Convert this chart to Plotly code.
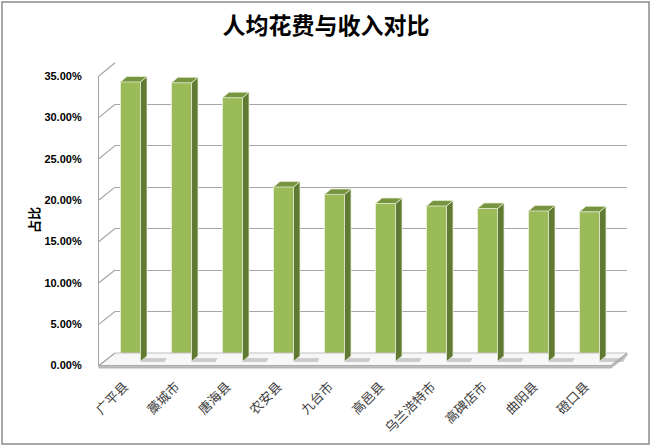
import plotly.graph_objects as go

W, H = 652, 447

# data
categories = ["广平县", "藁城市", "唐海县", "农安县", "九台市",
              "高邑县", "乌兰浩特市", "高碑店市", "曲阳县", "磴口县"]
ratios = [0.338, 0.337, 0.319, 0.211, 0.202, 0.191, 0.188, 0.185, 0.182, 0.181]
tick_vals = [0, 0.05, 0.10, 0.15, 0.20, 0.25, 0.30, 0.35]

# pixel geometry of the three planes of the fake 3D box
front = dict(left=99, right=611, base=365.5, top=76)
back = dict(left=115, right=627, base=353, top=62.7)
bars = dict(left=105, right=615, base=361.5, top=72.05)

FACE = "#9BBB59"
TOP = "#779440"
SIDE = "#617A33"
EDGE = "#E4ECD2"
GRID = "#A6A6A6"


def fx(p):
    return p / W


def fy(p):
    return 1 - p / H


# bar plane: pixel -> data helpers
cat_px = (bars["right"] - bars["left"]) / len(categories)
val_px = (bars["base"] - bars["top"]) / 0.35


def bx(p):
    return -0.5 + (p - bars["left"]) / cat_px


def by(p):
    return (bars["base"] - p) / val_px


bar_w = 20 / cat_px
dx = 6.5 / cat_px
dy = 5.5 / val_px

fig = go.Figure()

# invisible traces so the back wall and the front plane subplots get drawn
fig.add_trace(go.Scatter(x=[0] * len(tick_vals), y=tick_vals, mode="markers",
                         marker=dict(opacity=0), hoverinfo="skip", showlegend=False,
                         xaxis="x", yaxis="y"))
fig.add_trace(go.Scatter(x=list(range(len(categories))), y=[0] * len(categories),
                         mode="markers", marker=dict(opacity=0), hoverinfo="skip",
                         showlegend=False, xaxis="x2", yaxis="y2"))

# floor slab
fl_x = [bx(front["left"]), bx(front["right"]), bx(back["right"]), bx(back["left"]), bx(front["left"])]
fl_y = [by(front["base"]), by(front["base"]), by(back["base"]), by(back["base"]), by(front["base"])]
fig.add_trace(go.Scatter(x=fl_x, y=fl_y, mode="lines", fill="toself",
                         fillcolor="#F7F7F7", line=dict(color="#BFBFBF", width=1),
                         hoverinfo="skip", showlegend=False, xaxis="x3", yaxis="y3"))
slab_x = [bx(front["left"]), bx(front["right"]), bx(back["right"]), bx(back["right"]),
          bx(front["right"]), bx(front["left"]), bx(front["left"])]
slab_y = [by(front["base"]), by(front["base"]), by(back["base"]), by(back["base"] + 2.5),
          by(front["base"] + 2.5), by(front["base"] + 2.5), by(front["base"])]
fig.add_trace(go.Scatter(x=slab_x, y=slab_y, mode="lines", fill="toself",
                         fillcolor="#BFBFBF", line=dict(color="#A6A6A6", width=0.8),
                         hoverinfo="skip", showlegend=False, xaxis="x3", yaxis="y3"))

# soft shadows on the floor
sh_x, sh_y = [], []
for i in range(len(ratios)):
    x0 = i + bar_w / 2
    x1 = x0 + 24 / cat_px
    sh_x += [x0, x1, x1 + 2 / cat_px, x0 + 2 / cat_px, x0, None]
    sh_y += [by(362), by(362), by(358), by(358), by(362), None]
fig.add_trace(go.Scatter(x=sh_x, y=sh_y, mode="lines", fill="toself",
                         fillcolor="rgba(170,170,170,0.55)", line=dict(width=0),
                         hoverinfo="skip", showlegend=False, xaxis="x3", yaxis="y3"))

# front faces
fig.add_trace(go.Bar(x=list(range(len(ratios))), y=ratios, width=bar_w,
                     marker=dict(color=FACE, line=dict(color=EDGE, width=1)),
                     showlegend=False, xaxis="x3", yaxis="y3"))

# side and top faces
side_x, side_y, top_x, top_y = [], [], [], []
for i, v in enumerate(ratios):
    r = i + bar_w / 2
    l = i - bar_w / 2
    side_x += [r, r, r + dx, r + dx, r, None]
    side_y += [0, v, v + dy, dy, 0, None]
    top_x += [l, r, r + dx, l + dx, l, None]
    top_y += [v, v, v + dy, v + dy, v, None]
fig.add_trace(go.Scatter(x=side_x, y=side_y, mode="lines", fill="toself",
                         fillcolor=SIDE, line=dict(color=EDGE, width=0.8),
                         hoverinfo="skip", showlegend=False, xaxis="x3", yaxis="y3"))
fig.add_trace(go.Scatter(x=top_x, y=top_y, mode="lines", fill="toself",
                         fillcolor=TOP, line=dict(color=EDGE, width=0.8),
                         hoverinfo="skip", showlegend=False, xaxis="x3", yaxis="y3"))

# side wall diagonals linking the front ticks to the back gridlines
shapes = []
f_scale = (front["base"] - front["top"]) / 0.35
b_scale = (back["base"] - back["top"]) / 0.35
for v in tick_vals:
    shapes.append(dict(type="line", xref="paper", yref="paper",
                       x0=fx(front["left"]), y0=fy(front["base"] - v * f_scale),
                       x1=fx(back["left"]), y1=fy(back["base"] - v * b_scale),
                       line=dict(color=GRID, width=1.2)))
shapes.append(dict(type="rect", xref="paper", yref="paper",
                   x0=fx(2), y0=fy(444), x1=fx(649), y1=fy(2),
                   line=dict(color="#8C8C8C", width=1.5)))

fig.update_layout(
    width=W, height=H,
    margin=dict(l=0, r=0, t=0, b=0, autoexpand=False),
    paper_bgcolor="white", plot_bgcolor="rgba(0,0,0,0)",
    bargap=0,
    title=dict(text="人均花费与收入对比", x=0.5, xanchor="center",
               y=fy(26), yanchor="middle",
               font=dict(family="Noto Sans CJK SC", size=23, color="black", weight="bold")),
    # back wall with gridlines
    xaxis=dict(domain=[fx(back["left"]), fx(back["right"])], range=[-0.5, 9.5],
               showgrid=False, showticklabels=False, zeroline=False, anchor="y",
               automargin=False),
    yaxis=dict(domain=[fy(back["base"]), fy(back["top"])], range=[0, 0.35],
               tickvals=tick_vals, showgrid=True, gridcolor=GRID, gridwidth=1.4,
               showticklabels=False, zeroline=False, anchor="x", automargin=False),
    # front plane carrying the labels
    xaxis2=dict(domain=[fx(front["left"]), fx(front["right"])], range=[-0.5, 9.5],
                tickmode="array", tickvals=list(range(len(categories))), ticktext=categories,
                tickangle=-45, ticks="", showgrid=False, zeroline=False, anchor="y2",
                ticklabelstandoff=10, automargin=False,
                tickfont=dict(family="Noto Sans CJK SC", size=13, color="#404040")),
    yaxis2=dict(domain=[fy(front["base"]), fy(front["top"])], range=[0, 0.35],
                tickvals=tick_vals, tickformat=".2%", showgrid=False, zeroline=False,
                showline=True, linecolor=GRID, linewidth=1.2, ticks="",
                ticklabelstandoff=14, anchor="x2", automargin=False,
                tickfont=dict(family="Liberation Sans", size=11, color="black", weight="bold")),
    # bar plane
    xaxis3=dict(domain=[fx(90), fx(640)], range=[bx(90), bx(640)], visible=False,
                anchor="y3", automargin=False),
    yaxis3=dict(domain=[fy(380), fy(55)], range=[by(380), by(55)], visible=False,
                anchor="x3", automargin=False),
    shapes=shapes,
    annotations=[dict(text="占比", textangle=-90, xref="paper", yref="paper",
                      x=fx(33), y=fy(220), xanchor="center", yanchor="middle",
                      showarrow=False,
                      font=dict(family="Noto Sans CJK SC", size=13, color="black",
                                weight="bold"))],
)

fig.write_html("out.html", config={"displayModeBar": False},
               post_script="document.body.style.margin = '0';")
